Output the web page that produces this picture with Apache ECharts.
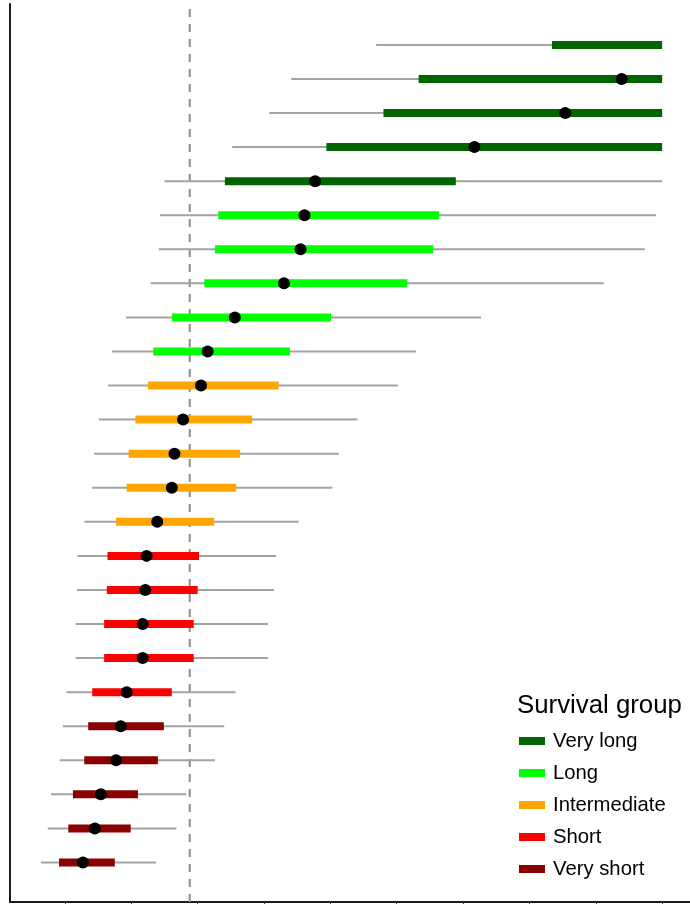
<!DOCTYPE html>
<html>
<head>
<meta charset="utf-8">
<title>Survival intervals</title>
<script src="https://cdn.jsdelivr.net/npm/echarts@6/dist/echarts.min.js"></script>
<style>
  html, body { margin: 0; padding: 0; background: #ffffff; }
  #chart { width: 690px; height: 904px; }
</style>
</head>
<body>
<div id="chart"></div>
<script>
// Survival groups, in legend order, and their colours
const groupNames = ['Very long', 'Long', 'Intermediate', 'Short', 'Very short'];
const groupColors = ['#006400', '#00FF00', '#FFA500', '#FF0000', '#8B0000'];

// One entry per row, listed from the top row to the bottom row
const rowGroup = [
  'Very long', 'Very long', 'Very long', 'Very long', 'Very long',
  'Long', 'Long', 'Long', 'Long', 'Long',
  'Intermediate', 'Intermediate', 'Intermediate', 'Intermediate', 'Intermediate',
  'Short', 'Short', 'Short', 'Short', 'Short',
  'Very short', 'Very short', 'Very short', 'Very short', 'Very short'
];
// Outer interval (thin grey line)
const outerLow  = [5.69, 4.41, 4.08, 3.52, 2.50, 2.43, 2.41, 2.29, 1.92, 1.71,
                   1.65, 1.51, 1.44, 1.41, 1.29, 1.19, 1.18, 1.16, 1.16, 1.02,
                   0.97, 0.92, 0.79, 0.74, 0.64];
const outerHigh = [10.0, 10.0, 10.0, 10.0, 10.0, 9.91, 9.74, 9.12, 7.27, 6.29,
                   6.02, 5.41, 5.13, 5.03, 4.52, 4.18, 4.15, 4.06, 4.06, 3.57,
                   3.40, 3.26, 2.83, 2.68, 2.37];
// Inner interval (thick coloured bar)
const innerLow  = [8.34, 6.33, 5.80, 4.94, 3.41, 3.31, 3.26, 3.10, 2.61, 2.33,
                   2.25, 2.06, 1.96, 1.93, 1.77, 1.64, 1.63, 1.59, 1.59, 1.41,
                   1.35, 1.29, 1.12, 1.05, 0.91];
const innerHigh = [10.0, 10.0, 10.0, 10.0, 6.89, 6.64, 6.55, 6.16, 5.01, 4.39,
                   4.22, 3.82, 3.64, 3.58, 3.25, 3.02, 3.00, 2.94, 2.94, 2.61,
                   2.49, 2.40, 2.10, 1.99, 1.75];
// Point estimate (black dot); the top row has none inside the range
const medians   = [null, 9.39, 8.54, 7.17, 4.77, 4.61, 4.55, 4.30, 3.56, 3.15,
                   3.05, 2.78, 2.65, 2.61, 2.39, 2.23, 2.21, 2.17, 2.17, 1.93,
                   1.84, 1.77, 1.54, 1.45, 1.27];

// Reference value (dashed vertical line) and x-axis tick positions
const referenceValue = 2.88;
const xTicks = [1, 2, 3, 4, 5, 6, 7, 8, 9, 10];

const X_MIN = 0.171, X_MAX = 10.42;
const Y_MIN = -0.16, Y_MAX = 26.2;
const nRows = rowGroup.length;
const FONT = 'Liberation Sans, Arial, sans-serif';

function renderRow(params, api) {
  const y = api.value(0);
  const lo = api.coord([api.value(1), y]);
  const q1 = api.coord([api.value(2), y]);
  const med = api.value(3);
  const q3 = api.coord([api.value(4), y]);
  const hi = api.coord([api.value(5), y]);
  const color = api.visual('color');
  const children = [
    {
      type: 'line',
      shape: { x1: lo[0], y1: lo[1], x2: hi[0], y2: hi[1] },
      style: { stroke: '#A3A3A3', lineWidth: 2 }
    },
    {
      type: 'rect',
      shape: { x: q1[0], y: q1[1] - 4, width: q3[0] - q1[0], height: 8 },
      style: { fill: color }
    }
  ];
  if (!isNaN(med)) {
    const m = api.coord([med, y]);
    children.push({
      type: 'circle',
      shape: { cx: m[0], cy: m[1], r: 6 },
      style: { fill: '#000000' }
    });
  }
  return { type: 'group', children: children };
}

const series = groupNames.map(function (name, g) {
  const rows = [];
  for (let i = 0; i < nRows; i++) {
    if (rowGroup[i] !== name) continue;
    rows.push([nRows - i, outerLow[i], innerLow[i], medians[i], innerHigh[i], outerHigh[i]]);
  }
  return {
    name: name,
    type: 'custom',
    renderItem: renderRow,
    itemStyle: { color: groupColors[g] },
    encode: { x: [1, 2, 4, 5], y: 0 },
    data: rows,
    z: 3
  };
});

series.unshift({
  name: 'reference',
  type: 'line',
  data: [[referenceValue, Y_MIN], [referenceValue, Y_MAX]],
  symbol: 'none',
  silent: true,
  lineStyle: { color: '#8C8C8C', width: 2, type: [8, 7] },
  z: 1
});

const chart = echarts.init(document.getElementById('chart'), null, { renderer: 'canvas' });
chart.setOption({
  animation: false,
  backgroundColor: '#ffffff',
  textStyle: { fontFamily: FONT },
  grid: { left: 10, right: 0, top: 4, bottom: 2, containLabel: false },
  title: {
    text: 'Survival group',
    left: 517,
    top: 693,
    padding: 0,
    textStyle: { fontSize: 25.8, fontWeight: 'normal', color: '#000000', fontFamily: FONT }
  },
  legend: {
    data: groupNames,
    orient: 'vertical',
    left: 519,
    top: 731,
    padding: 0,
    itemWidth: 26,
    itemHeight: 8,
    itemGap: 12,
    icon: 'rect',
    selectedMode: false,
    textStyle: { fontSize: 20.3, lineHeight: 20, color: '#000000', padding: [0, 0, 0, 3], fontFamily: FONT }
  },
  xAxis: {
    type: 'value',
    min: X_MIN,
    max: X_MAX,
    splitLine: { show: false },
    axisLine: { show: true, onZero: false, lineStyle: { color: '#1a1a1a', width: 2 } },
    axisTick: { show: true, length: 2, customValues: xTicks, lineStyle: { color: '#333333', width: 1 } },
    axisLabel: { show: false }
  },
  yAxis: {
    type: 'value',
    min: Y_MIN,
    max: Y_MAX,
    splitLine: { show: false },
    axisLine: { show: true, onZero: false, lineStyle: { color: '#1a1a1a', width: 2 } },
    axisTick: { show: false },
    axisLabel: { show: false }
  },
  series: series
});
</script>
</body>
</html>
